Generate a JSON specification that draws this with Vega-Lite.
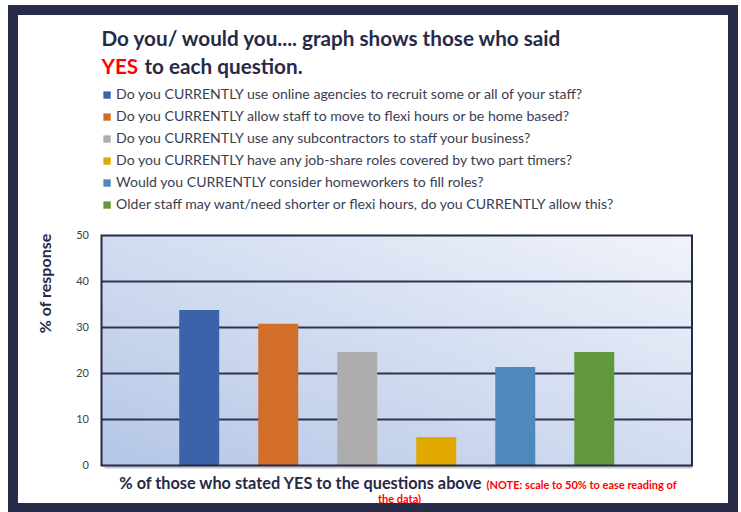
{
  "$schema": "https://vega.github.io/schema/vega-lite/v6.json",
  "width": 720,
  "height": 498,
  "autosize": {"type": "none"},
  "padding": {"left": 13, "top": 10, "right": 8, "bottom": 4},
  "background": "white",
  "config": {
    "font": "Lato",
    "view": {"fill": "white", "stroke": "#282c48", "strokeWidth": 10},
    "axis": {
      "domain": false, "ticks": false, "labels": false, "grid": false, "tickSize": 0,
      "titleFont": "Lato", "titleFontWeight": "bold", "titleColor": "#262a46",
      "titleLimit": 1000, "titlePadding": 0, "labelFont": "Lato"
    }
  },
  "datasets": {
    "answers": [
      {"question": "Do you CURRENTLY use online agencies to recruit some or all of your staff?", "pct": 33.8},
      {"question": "Do you CURRENTLY allow staff to move to flexi hours or be home based?", "pct": 30.8},
      {"question": "Do you CURRENTLY use any subcontractors to staff your business?", "pct": 24.7},
      {"question": "Do you CURRENTLY have any job-share roles covered by two part timers?", "pct": 6.2},
      {"question": "Would you CURRENTLY consider homeworkers to fill roles?", "pct": 21.4},
      {"question": "Older staff may want/need shorter or flexi hours, do you CURRENTLY allow this?", "pct": 24.7}
    ],
    "panel": [{"area": "plot"}],
    "gridlines": [{"level": 10}, {"level": 20}, {"level": 30}, {"level": 40}]
  },
  "layer": [
    {
      "data": {"name": "panel"},
      "mark": {"type": "rect", "fill": "#8e909c", "opacity": 0.5, "xOffset": 3, "yOffset": 3},
      "encoding": {
        "x": {"datum": 0, "type": "quantitative", "scale": {"domain": [0, 1], "range": [88.5, 679]},
          "axis": {"orient": "bottom", "title": "(NOTE: scale to 50% to ease reading of", "titleColor": "#ff0000", "titleFontSize": 11,
            "titleX": 473, "titleY": -20, "titleAlign": "left", "titleBaseline": "alphabetic"}},
        "x2": {"datum": 1},
        "y": {"datum": 0, "type": "quantitative", "axis": null},
        "y2": {"datum": 50}
      }
    },
    {
      "data": {"name": "panel"},
      "mark": {"type": "rect", "fill": {"gradient": "linear", "x1": 0, "y1": 1, "x2": 1, "y2": 0,
        "stops": [{"offset": 0, "color": "#b4c6e6"}, {"offset": 1, "color": "#f0f3fa"}]}},
      "encoding": {
        "x": {"datum": 0, "type": "quantitative", "scale": {"domain": [0, 1], "range": [88.5, 679]},
          "axis": {"orient": "bottom", "title": "the data)", "titleColor": "#ff0000", "titleFontSize": 11,
            "titleX": 386, "titleY": -6, "titleAlign": "center", "titleBaseline": "alphabetic"}},
        "x2": {"datum": 1},
        "y": {"datum": 0, "type": "quantitative", "axis": null},
        "y2": {"datum": 50}
      }
    },
    {
      "data": {"name": "gridlines"},
      "mark": {"type": "rule", "color": "#2f3352", "strokeWidth": 2},
      "encoding": {
        "x": {"datum": 0, "type": "quantitative", "scale": {"domain": [0, 1], "range": [88.5, 679]},
          "axis": {"orient": "bottom", "title": "Do you/ would you.... graph shows those who said", "titleFontSize": 20.7,
            "titleX": 88, "titleY": -463, "titleAlign": "left", "titleBaseline": "alphabetic"}},
        "x2": {"datum": 1},
        "y": {"field": "level", "type": "quantitative", "axis": null}
      }
    },
    {
      "data": {"name": "answers"},
      "mark": {"type": "bar"},
      "encoding": {
        "x": {"field": "question", "type": "nominal", "sort": null,
          "scale": {"range": [88.5, 679], "paddingInner": 0.494, "paddingOuter": 0.984},
          "axis": {"orient": "bottom", "title": "% of those who stated YES to the questions above", "titleFontSize": 16.3,
            "titleX": 468, "titleY": -20, "titleAlign": "right", "titleBaseline": "alphabetic"}},
        "y": {"field": "pct", "type": "quantitative",
          "scale": {"domain": [0, 50], "range": [455.5, 225.5], "nice": false, "zero": true},
          "axis": {"orient": "left", "offset": -88.5, "values": [0, 10, 20, 30, 40, 50], "labels": true,
            "labelFontSize": 11, "labelColor": "#404040", "labelPadding": 13,
            "title": "% of response", "titleFontSize": 16, "titleX": -56.5, "titleY": 273, "titleAngle": -90,
            "titleAlign": "center", "titleBaseline": "middle"}},
        "color": {"field": "question", "type": "nominal",
          "scale": {
            "domain": [
              "Do you CURRENTLY use online agencies to recruit some or all of your staff?",
              "Do you CURRENTLY allow staff to move to flexi hours or be home based?",
              "Do you CURRENTLY use any subcontractors to staff your business?",
              "Do you CURRENTLY have any job-share roles covered by two part timers?",
              "Would you CURRENTLY consider homeworkers to fill roles?",
              "Older staff may want/need shorter or flexi hours, do you CURRENTLY allow this?"
            ],
            "range": ["#3b63ab", "#d36e2a", "#adadad", "#e1a900", "#4f88bb", "#62983d"]
          },
          "legend": {"orient": "none", "legendX": 87, "legendY": 78, "title": null, "symbolType": "square",
            "symbolSize": 54, "symbolStrokeWidth": 0, "symbolOpacity": 1, "labelFont": "Lato", "labelFontSize": 14.1,
            "labelColor": "#3b3d50", "labelLimit": 700, "rowPadding": 7, "labelOffset": 2, "padding": 0}}
      }
    },
    {
      "data": {"name": "panel"},
      "mark": {"type": "rect", "fill": null, "stroke": "#262a46", "strokeWidth": 2},
      "encoding": {
        "x": {"datum": 0, "type": "quantitative", "scale": {"domain": [0, 1], "range": [88.5, 679]},
          "axis": {"orient": "bottom", "title": "YES", "titleColor": "#ff0000", "titleFontSize": 20.7,
            "titleX": 88, "titleY": -435, "titleAlign": "left", "titleBaseline": "alphabetic"}},
        "x2": {"datum": 1},
        "y": {"datum": 0, "type": "quantitative",
          "axis": {"orient": "left", "title": "to each question.", "titleFontSize": 20.7, "titleAngle": 0,
            "titleX": 131, "titleY": 63, "titleAlign": "left", "titleBaseline": "alphabetic"}},
        "y2": {"datum": 50}
      }
    }
  ],
  "resolve": {"scale": {"x": "independent"}, "axis": {"x": "independent", "y": "independent"}}
}
